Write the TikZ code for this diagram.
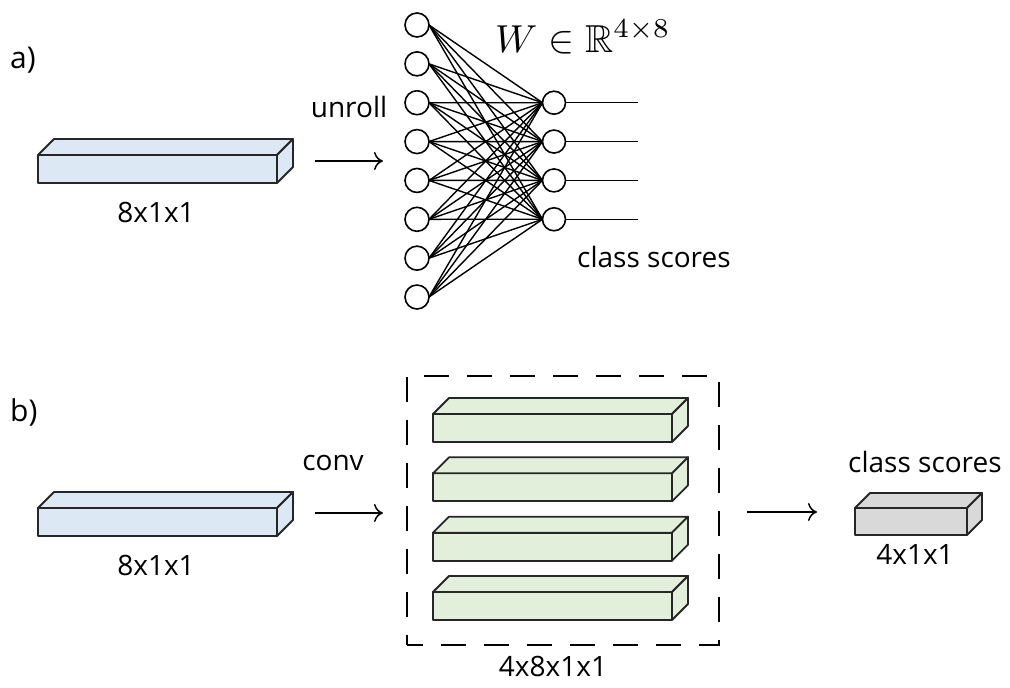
\documentclass[tikz,border=0pt]{standalone}
\usepackage{amssymb}
\usepackage{graphicx}
\usepackage{fontspec}
\setmainfont{Open Sans}
\usetikzlibrary{arrows.meta}
\definecolor{boxblue}{HTML}{DDE8F5}
\definecolor{boxgreen}{HTML}{E2EFDA}
\definecolor{boxgray}{HTML}{D9D9D9}
\definecolor{edgegray}{HTML}{262626}
\newcommand\cuboidbox[7]{%
  \node[boxface, fill=#7, minimum width=#4pt, minimum height=#5pt, anchor=north west] (#1) at (#2,#3) {};
  \draw[boxedge, fill=#7] (#1.north west) -- ++(#6,-#6) -- ++(#4,0) -- (#1.north east) -- cycle;
  \draw[boxedge, fill=#7] (#1.north east) -- ++(#6,-#6) -- ++(0,#5) -- (#1.south east) -- cycle;
}
\begin{document}
\begin{tikzpicture}[x=1pt,y=-1pt,
  boxface/.style={draw=edgegray, line width=1.8pt, rectangle, inner sep=0pt, outer sep=0pt, line join=round},
  boxedge/.style={draw=edgegray, line width=1.8pt, line join=round},
  lbl/.style={font=\fontsize{28}{34}\selectfont, inner sep=0pt},
  tag/.style={font=\fontsize{30}{36}\selectfont, inner sep=0pt},
  neuron/.style={circle, draw=black, line width=1.6pt, minimum size=24pt, inner sep=0pt, outer sep=0pt, fill=white},
  wire/.style={line width=1.4pt, black},
  outwire/.style={line width=1.5pt, black},
  arr/.style={line width=1.5pt, -{Computer Modern Rightarrow[length=9pt,width=18pt]}},
  groupbox/.style={draw=black, line width=1.8pt, dash pattern=on 25pt off 18pt, dash phase=9pt, rectangle, inner sep=0pt}
]
\useasboundingbox (0,0) rectangle (1010,688);

% ---------- a) ----------
\node[tag, anchor=base west] (taga) at (10,68) {a)};
\cuboidbox{inA}{38}{155}{239}{28}{16}{boxblue}
\node[lbl, anchor=base] (dimA) at (156,222) {8x1x1};

\coordinate (aS) at (315,161);
\coordinate (aE) at (383,161);
\draw[arr] (aS) -- (aE);
\node[lbl, anchor=base] (unroll) at (349,117) {unroll};

\foreach \i in {0,...,7}
  \node[neuron] (in\i) at (417,{25+38.86*\i}) {};
\foreach \j in {0,...,3}
  \node[neuron, minimum size=23pt] (out\j) at (554,{102.7+38.86*\j}) {};
\foreach \i in {0,...,7}
  \foreach \j in {0,...,3}
    \draw[wire] (in\i.east) -- (out\j.west);
\foreach \j in {0,...,3} {
  \coordinate (score\j) at (638,{102.7+38.86*\j});
  \draw[outwire] (out\j.east) -- (score\j);
}
\node[anchor=base west, inner sep=0pt, font=\fontsize{10}{12}\selectfont] (wlabel) at (495,52) {\scalebox{3.9}{$W \in \mathbb{R}^{4\times 8}$}};
\node[lbl, anchor=base west] (scoresA) at (577,267) {class scores};

% ---------- b) ----------
\node[tag, anchor=base west] (tagb) at (10,421) {b)};
\cuboidbox{inB}{38}{508}{239}{28}{16}{boxblue}
\node[lbl, anchor=base] (dimB) at (156,575) {8x1x1};

\coordinate (bS) at (315,513);
\coordinate (bE) at (383,513);
\draw[arr] (bS) -- (bE);
\node[lbl, anchor=base] (conv) at (333,470) {conv};

\node[groupbox, minimum width=312pt, minimum height=269pt, anchor=north west] (group) at (406,375) {};
\cuboidbox{f1}{433}{414}{239}{28}{16}{boxgreen}
\cuboidbox{f2}{433}{473.3}{239}{28}{16}{boxgreen}
\cuboidbox{f3}{433}{532.7}{239}{28}{16}{boxgreen}
\cuboidbox{f4}{433}{592}{239}{28}{16}{boxgreen}
\node[lbl, anchor=base] (dimF) at (553,676) {4x8x1x1};

\coordinate (cS) at (747,512);
\coordinate (cE) at (817,512);
\draw[arr] (cS) -- (cE);

\cuboidbox{outB}{855}{508}{112}{27}{15}{boxgray}
\node[lbl, anchor=base west] (scoresB) at (848,472) {class scores};
\node[lbl, anchor=base] (dimO) at (915,564) {4x1x1};
\end{tikzpicture}
\end{document}
